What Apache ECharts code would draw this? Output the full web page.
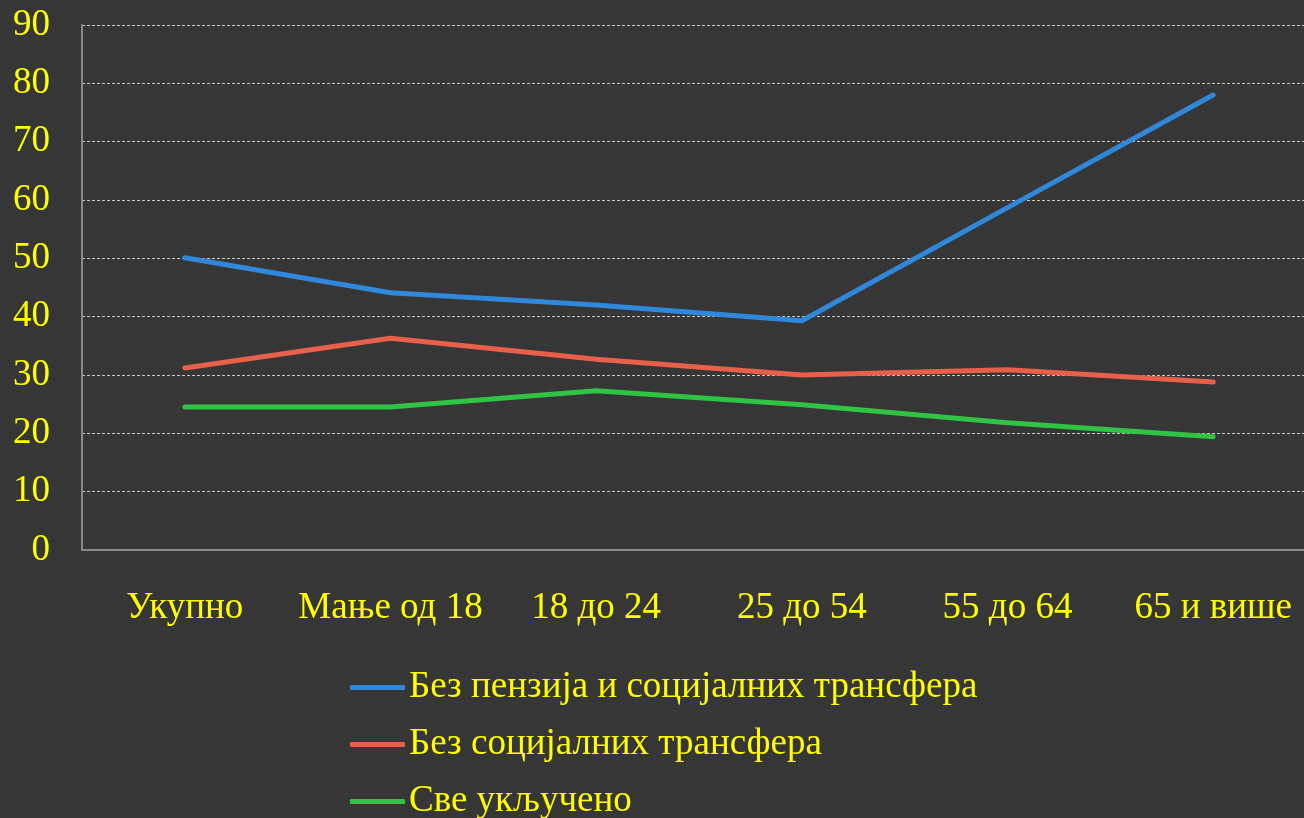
<!DOCTYPE html>
<html>
<head>
<meta charset="utf-8">
<script src="https://cdn.jsdelivr.net/npm/echarts@6/dist/echarts.min.js"></script>
<style>
  html, body { margin: 0; padding: 0; background: #363636; }
  #chart { width: 1304px; height: 818px; }
</style>
</head>
<body>
<div id="chart"></div>
<script>
var categories = ['Укупно', 'Мање од 18', '18 до 24', '25 до 54', '55 до 64', '65 и више'];
var seriesNames = ['Без пензија и социјалних трансфера', 'Без социјалних трансфера', 'Све укључено'];
var noPensions = [50.1, 44.1, 42.0, 39.3, 58.7, 78.0];
var noTransfers = [31.2, 36.3, 32.7, 30.0, 30.9, 28.8];
var allIncluded = [24.5, 24.5, 27.3, 24.9, 21.8, 19.4];
var colors = ['#3088db', '#e8604a', '#2ec444'];

var font = '"Liberation Serif", "Times New Roman", serif';
var chart = echarts.init(document.getElementById('chart'));

function lineSeries(name, data) {
  return {
    name: name,
    type: 'line',
    data: data,
    symbol: 'none',
    lineStyle: { width: 5, cap: 'round', join: 'round' }
  };
}

var option = {
  backgroundColor: '#363636',
  color: colors,
  animation: false,
  textStyle: { fontFamily: font },
  grid: { left: 82, top: 25, right: -12, bottom: 268, outerBoundsMode: 'none', containLabel: false },
  legend: {
    orient: 'vertical',
    left: 345,
    top: 664,
    height: 180,
    itemWidth: 55,
    itemHeight: 5,
    itemGap: 20,
    icon: 'roundRect',
    data: seriesNames,
    textStyle: { color: '#ffff00', fontSize: 37, fontFamily: font, padding: [0, 0, 0, -1] }
  },
  xAxis: {
    type: 'category',
    data: categories,
    boundaryGap: true,
    axisLine: { lineStyle: { color: '#8a8a8a', width: 2 } },
    axisTick: { show: false },
    axisLabel: { color: '#ffff00', fontSize: 37, fontFamily: font, margin: 40, interval: 0 },
    splitLine: { show: false }
  },
  yAxis: {
    type: 'value',
    min: 0,
    max: 90,
    interval: 10,
    axisLine: { show: true, lineStyle: { color: '#8a8a8a', width: 2 } },
    axisTick: { show: false },
    axisLabel: { color: '#ffff00', fontSize: 37, fontFamily: font, margin: 32 },
    splitLine: { lineStyle: { color: '#c8c8c8', type: [3, 2], width: 1 } }
  },
  series: [
    lineSeries(seriesNames[0], noPensions),
    lineSeries(seriesNames[1], noTransfers),
    lineSeries(seriesNames[2], allIncluded)
  ]
};

chart.setOption(option);
</script>
</body>
</html>
